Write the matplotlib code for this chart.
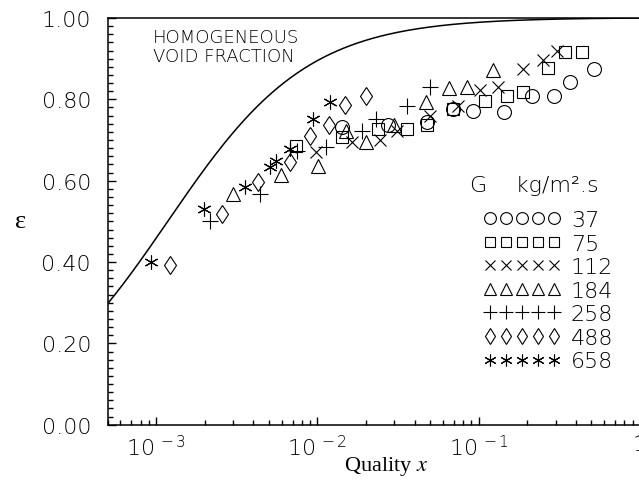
import numpy as np
import matplotlib
matplotlib.use('Agg')
import matplotlib.pyplot as plt
from matplotlib.ticker import MultipleLocator, LogLocator, NullFormatter

plt.rcParams['font.family'] = ['DejaVu Sans']
plt.rcParams['font.weight'] = 'light'
plt.rcParams['mathtext.fontset'] = 'stix'

# measured void fraction vs quality, one series per mass flux G (kg/m2.s)
x_37 = [0.0141, 0.0275, 0.0477, 0.0695, 0.0927, 0.144, 0.213, 0.294, 0.369, 0.515]
eps_37 = [0.732, 0.736, 0.744, 0.777, 0.772, 0.768, 0.808, 0.808, 0.842, 0.875]

x_75 = [0.00733, 0.0141, 0.0238, 0.0357, 0.0477, 0.0695, 0.109, 0.149, 0.189, 0.267, 0.343, 0.436]
eps_75 = [0.686, 0.707, 0.727, 0.727, 0.736, 0.777, 0.797, 0.809, 0.819, 0.877, 0.916, 0.916]

x_112 = [0.00978, 0.0163, 0.0244, 0.031, 0.0499, 0.0746, 0.102, 0.132, 0.1875, 0.249, 0.305]
eps_112 = [0.670, 0.695, 0.699, 0.723, 0.759, 0.783, 0.822, 0.830, 0.875, 0.896, 0.918]

x_184 = [0.00299, 0.00597, 0.0101, 0.015, 0.0201, 0.0298, 0.0471, 0.0656, 0.0841, 0.123]
eps_184 = [0.567, 0.613, 0.637, 0.723, 0.695, 0.737, 0.793, 0.828, 0.830, 0.871]

x_258 = [0.00214, 0.00443, 0.0075, 0.0113, 0.0188, 0.023, 0.0357, 0.0499]
eps_258 = [0.502, 0.567, 0.672, 0.682, 0.723, 0.752, 0.783, 0.830]

x_488 = [0.00121, 0.00254, 0.00428, 0.00673, 0.00896, 0.0118, 0.0148, 0.020]
eps_488 = [0.393, 0.518, 0.596, 0.647, 0.711, 0.737, 0.787, 0.808]

x_658 = [0.00093, 0.00197, 0.00353, 0.00506, 0.00551, 0.00679, 0.0094, 0.0119]
eps_658 = [0.401, 0.531, 0.584, 0.633, 0.649, 0.678, 0.752, 0.793]

mass_flux = ['37', '75', '112', '184', '258', '488', '658']

# gas/liquid density ratio used for the homogeneous model (air-water)
rho_ratio = 1.18e-3

x_ticks = [1e-3, 1e-2, 1e-1, 1.0]
x_tick_labels = [r'$\mathregular{10^{\ -3}}$', r'$\mathregular{10^{\ -2}}$',
                 r'$\mathregular{10^{\ -1}}$', '1']
y_ticks = [0.0, 0.2, 0.4, 0.6, 0.8, 1.0]

fig = plt.figure(figsize=(6.39, 4.89), dpi=100)
ax = fig.add_axes([0.1685, 0.1294, 0.8331, 0.8317])

# homogeneous void fraction curve
xq = np.geomspace(5e-4, 1.0, 400)
eps_h = 1.0 / (1.0 + (1.0 - xq) / xq * rho_ratio)
ax.plot(xq, eps_h, color='black', lw=1.1)

series = [
    (x_37, eps_37, dict(marker='o', ms=10)),
    (x_75, eps_75, dict(marker='s', ms=9)),
    (x_112, eps_112, dict(marker='x', ms=9)),
    (x_184, eps_184, dict(marker='^', ms=10)),
    (x_258, eps_258, dict(marker='+', ms=12)),
    (x_488, eps_488, dict(marker='d', ms=9.5)),
    (x_658, eps_658, dict(marker=(6, 2, 0), ms=10)),
]
handles = []
for xs, ys, style in series:
    h, = ax.plot(xs, ys, linestyle='none', mfc='none', mec='black',
                 mew=0.8, color='black', **style)
    handles.append(h)

ax.set_xscale('log')
ax.set_xlim(5e-4, 1.0)
ax.set_ylim(0.0, 1.0)

ax.set_xticks(x_ticks)
ax.set_xticklabels(x_tick_labels)
ax.xaxis.set_minor_locator(LogLocator(base=10, subs=np.arange(2, 10)))
ax.xaxis.set_minor_formatter(NullFormatter())
ax.set_yticks(y_ticks)
ax.set_yticklabels(['%.2f' % v for v in y_ticks])
ax.yaxis.set_minor_locator(MultipleLocator(0.02))

ax.tick_params(which='both', direction='in', top=False, right=False, width=1.0)
ax.tick_params(which='major', length=6)
ax.tick_params(which='minor', length=3.5)
ax.tick_params(axis='y', which='major', labelsize=16, pad=12)
ax.tick_params(axis='x', which='major', labelsize=16, pad=7)

for side in ['left', 'bottom', 'top']:
    ax.spines[side].set_linewidth(1.1)
ax.spines['right'].set_visible(False)

ax.set_xlabel('Quality $x$', family='Liberation Serif', fontsize=16,
              fontweight='normal', va='center')
ax.xaxis.set_label_coords(0.523, -0.1)
ax.set_ylabel('ε', family='Liberation Serif', fontsize=19, rotation=0,
              fontweight='normal', ha='center', va='center')
ax.yaxis.set_label_coords(-0.163, 0.5)

ax.text(9.5e-4, 0.975, 'HOMOGENEOUS\nVOID FRACTION', fontsize=13,
        ha='left', va='top', linespacing=1.05)

ax.text(0.0883, 0.574, 'G    kg/m².s', fontsize=16, ha='left', va='baseline')
ax.legend(handles, mass_flux, numpoints=5, markerscale=0.85, fontsize=16,
          handlelength=3.5, handletextpad=0.45, labelspacing=0.16,
          frameon=False, borderpad=0, borderaxespad=0, loc='upper left',
          bbox_to_anchor=(483 / 639, 1 - 211 / 489),
          bbox_transform=fig.transFigure)

fig.savefig('out.png', dpi=100)
